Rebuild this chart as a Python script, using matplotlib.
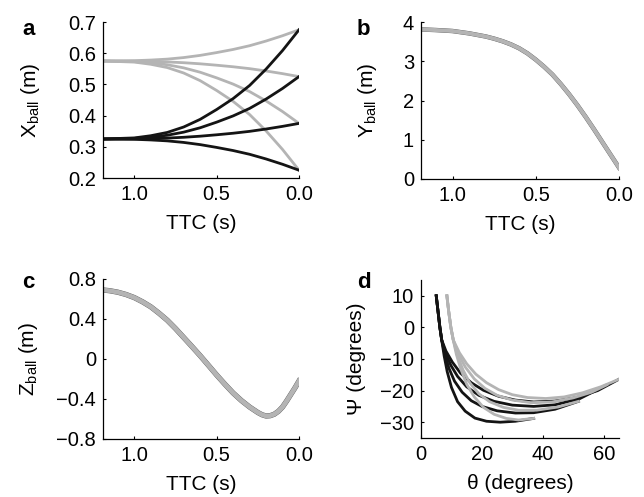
import matplotlib
matplotlib.use('Agg')
import matplotlib.pyplot as plt

plt.rcParams['font.family'] = ['Liberation Sans', 'DejaVu Sans']
plt.rcParams['mathtext.fontset'] = 'custom'
plt.rcParams['mathtext.rm'] = 'Liberation Sans'
plt.rcParams['mathtext.it'] = 'Liberation Sans:italic'

BLACK = '#141414'
GRAY = '#b4b4b4'

# ---- panel a: lateral ball position vs time to contact
ttc = [1.19, 1.0, 0.9, 0.8, 0.7, 0.6, 0.5, 0.4, 0.3, 0.2, 0.1, 0.0]
x_black = [
    [0.325, 0.324, 0.322, 0.319, 0.314, 0.307, 0.298, 0.288, 0.276, 0.261, 0.244, 0.225],
    [0.325, 0.3255, 0.3265, 0.328, 0.3305, 0.334, 0.3385, 0.3435, 0.3495, 0.357, 0.3655, 0.375],
    [0.325, 0.327, 0.331, 0.337, 0.347, 0.361, 0.379, 0.399, 0.423, 0.453, 0.487, 0.525],
    [0.325, 0.3285, 0.3355, 0.346, 0.3635, 0.388, 0.4195, 0.4545, 0.4965, 0.549, 0.6085, 0.675],
]
x_gray = [
    [0.575, 0.576, 0.578, 0.581, 0.586, 0.593, 0.602, 0.612, 0.624, 0.639, 0.656, 0.675],
    [0.575, 0.5745, 0.5735, 0.572, 0.5695, 0.566, 0.5615, 0.5565, 0.5505, 0.543, 0.5345, 0.525],
    [0.575, 0.573, 0.569, 0.563, 0.553, 0.539, 0.521, 0.501, 0.477, 0.447, 0.413, 0.375],
    [0.575, 0.5715, 0.5645, 0.554, 0.5365, 0.512, 0.4805, 0.4455, 0.4035, 0.351, 0.2915, 0.225],
]

# ---- panel b: distance
ttc_y = [1.19, 1.1, 1.0, 0.9, 0.8, 0.75, 0.7, 0.65, 0.6, 0.55, 0.5, 0.45, 0.4,
         0.35, 0.3, 0.25, 0.2, 0.15, 0.1, 0.05, 0.0]
y_ball = [3.81, 3.795, 3.77, 3.71, 3.63, 3.575, 3.51, 3.43, 3.33, 3.2, 3.04, 2.86, 2.66,
          2.42, 2.16, 1.88, 1.58, 1.265, 0.94, 0.615, 0.29]

# ---- panel c: height
ttc_z = [1.19, 1.15, 1.1, 1.05, 1.0, 0.95, 0.9, 0.85, 0.8, 0.75, 0.7, 0.65, 0.6, 0.55,
         0.5, 0.45, 0.4, 0.35, 0.3, 0.25, 0.225, 0.2, 0.175, 0.15, 0.125, 0.1, 0.075,
         0.05, 0.025, 0.0]
z_ball = [0.69, 0.683, 0.668, 0.645, 0.614, 0.572, 0.522, 0.458, 0.388, 0.305, 0.215,
          0.125, 0.033, -0.063, -0.16, -0.252, -0.34, -0.415, -0.48, -0.535, -0.557,
          -0.57, -0.567, -0.552, -0.523, -0.48, -0.42, -0.355, -0.29, -0.22]

# ---- panel d: psi vs theta (theta, psi pairs)
d_black = [
    ([5.0, 5.6, 6.2, 6.8, 7.6, 8.6, 10, 12, 14.5, 17.7, 21.5, 26, 31, 37],
     [10, 5, 0, -4, -9, -14, -19, -23.5, -26.5, -28.7, -29.7, -30.0, -29.7, -28.8]),
    ([5.0, 5.6, 6.2, 6.8, 7.8, 9.2, 11, 13.5, 16.5, 20, 25, 31, 37, 44, 51.7],
     [10, 5, 0, -4, -8.5, -13, -17, -20.5, -23.2, -25, -26.4, -27.1, -27, -25.9, -23.4]),
    ([5.0, 5.6, 6.2, 6.8, 8.0, 9.8, 12, 15, 19, 24, 30, 37, 44, 52, 61],
     [10, 5, 0, -4, -8, -12, -15.5, -18.8, -21.5, -23.4, -24.6, -25, -24.5, -22.6, -18.2]),
    ([5.0, 5.6, 6.2, 6.8, 8.2, 10.3, 13, 16.5, 20.5, 25.5, 31, 37, 44, 51, 58, 65],
     [10, 5, 0, -4, -7.5, -11, -14.5, -17.5, -19.9, -21.8, -23, -23.6, -23.3, -22.2, -20, -16.4]),
]
d_gray = [
    ([8.5, 9.1, 9.8, 10.6, 11.6, 13, 15, 17.5, 20.5, 24, 28, 32, 37],
     [10, 5, 0, -4, -8.5, -13, -18, -22, -25.3, -27.5, -28.8, -29.3, -28.8]),
    ([8.5, 9.1, 9.8, 10.6, 12, 13.8, 16, 19, 22.5, 27, 32, 38, 45, 51.7],
     [10, 5, 0, -4, -9, -13.5, -17.5, -21, -23.5, -25.3, -26.2, -26.2, -25.2, -23.4]),
    ([8.5, 9.1, 9.8, 10.6, 12.3, 14.5, 17.5, 21, 25, 30, 36, 43, 50, 56, 61],
     [10, 5, 0, -4, -8.5, -12.5, -16.3, -19.3, -21.5, -23, -23.8, -23.6, -22.3, -20.5, -18.2]),
    ([8.5, 9.1, 9.8, 10.6, 12.6, 15, 18, 21.5, 25.5, 30, 35, 41, 47, 53, 59, 65],
     [10, 5, 0, -4, -8, -11.5, -14.8, -17.5, -19.7, -21.3, -22.2, -22.5, -22, -20.7, -18.8, -16.4]),
]


def style(ax):
    for s in ['top', 'right']:
        ax.spines[s].set_visible(False)
    for s in ['left', 'bottom']:
        ax.spines[s].set_linewidth(0.9)
    ax.tick_params(direction='in', length=2.5, width=0.8, labelsize=14.5, pad=5)


fig = plt.figure(figsize=(6.44, 4.97), dpi=100)
W, H = 644.0, 497.0


def add_axes(l, r, t, b):
    return fig.add_axes([l / W, 1 - b / H, (r - l) / W, (b - t) / H])


ax_a = add_axes(103, 299, 22, 178)
ax_b = add_axes(421, 619, 22, 179)
ax_c = add_axes(103, 299, 279, 439)
ax_d = add_axes(421, 619, 280, 438)

# a
for xs in x_gray:
    ax_a.plot(ttc, xs, color=GRAY, lw=2)
for xs in x_black:
    ax_a.plot(ttc, xs, color=BLACK, lw=2)
ax_a.set_xlim(1.19, 0)
ax_a.set_ylim(0.2, 0.7)
ax_a.set_yticks([0.2, 0.3, 0.4, 0.5, 0.6, 0.7])
ax_a.set_yticklabels(['0.2', '0.3', '0.4', '0.5', '0.6', '0.7'])
ax_a.set_ylabel(r'$\mathrm{X_{ball}}$ (m)', fontsize=15)

# b  (several near-identical traces: dark underneath, grey on top)
ax_b.plot(ttc_y, y_ball, color='#555555', lw=3.2)
ax_b.plot(ttc_y, y_ball, color=GRAY, lw=2.9)
ax_b.set_xlim(1.19, 0)
ax_b.set_ylim(0, 4)
ax_b.set_yticks([0, 1, 2, 3, 4])
ax_b.set_ylabel(r'$\mathrm{Y_{ball}}$ (m)', fontsize=15)

# c
ax_c.plot(ttc_z, z_ball, color='#555555', lw=3.8)
ax_c.plot(ttc_z, z_ball, color=GRAY, lw=3.4)
ax_c.set_xlim(1.19, 0)
ax_c.set_ylim(-0.8, 0.8)
ax_c.set_yticks([-0.8, -0.4, 0, 0.4, 0.8])
ax_c.set_yticklabels(['\u22120.8', '\u22120.4', '0', '0.4', '0.8'])
ax_c.set_ylabel(r'$\mathrm{Z_{ball}}$ (m)', fontsize=15)

for ax in [ax_a, ax_b, ax_c]:
    ax.set_xticks([1.0, 0.5, 0.0])
    ax.set_xticklabels(['1.0', '0.5', '0.0'])
    ax.set_xlabel('TTC (s)', fontsize=15, labelpad=7)

# d
for th, ps in d_black:
    ax_d.plot(th, ps, color=BLACK, lw=2)
for th, ps in d_gray:
    ax_d.plot(th, ps, color=GRAY, lw=2)
ax_d.set_xlim(0, 65)
ax_d.set_ylim(-35, 15)
ax_d.set_xticks([0, 20, 40, 60])
ax_d.set_yticks([-30, -20, -10, 0, 10])
ax_d.set_xlabel('\u03b8 (degrees)', fontsize=15, labelpad=7)
ax_d.set_ylabel('\u03a8 (degrees)', fontsize=15)

for ax in [ax_a, ax_b, ax_c, ax_d]:
    style(ax)

ax_a.yaxis.set_label_coords(-0.31, 0.5)
ax_b.yaxis.set_label_coords(-0.21, 0.5)
ax_c.yaxis.set_label_coords(-0.32, 0.5)
ax_d.yaxis.set_label_coords(-0.28, 0.5)

for lab, x, y in [('a', 22, 35), ('b', 357, 35), ('c', 22, 288), ('d', 357, 288)]:
    fig.text(x / W, 1 - y / H, lab, fontsize=16, fontweight='bold', va='baseline')

fig.savefig('out.png', dpi=100)
